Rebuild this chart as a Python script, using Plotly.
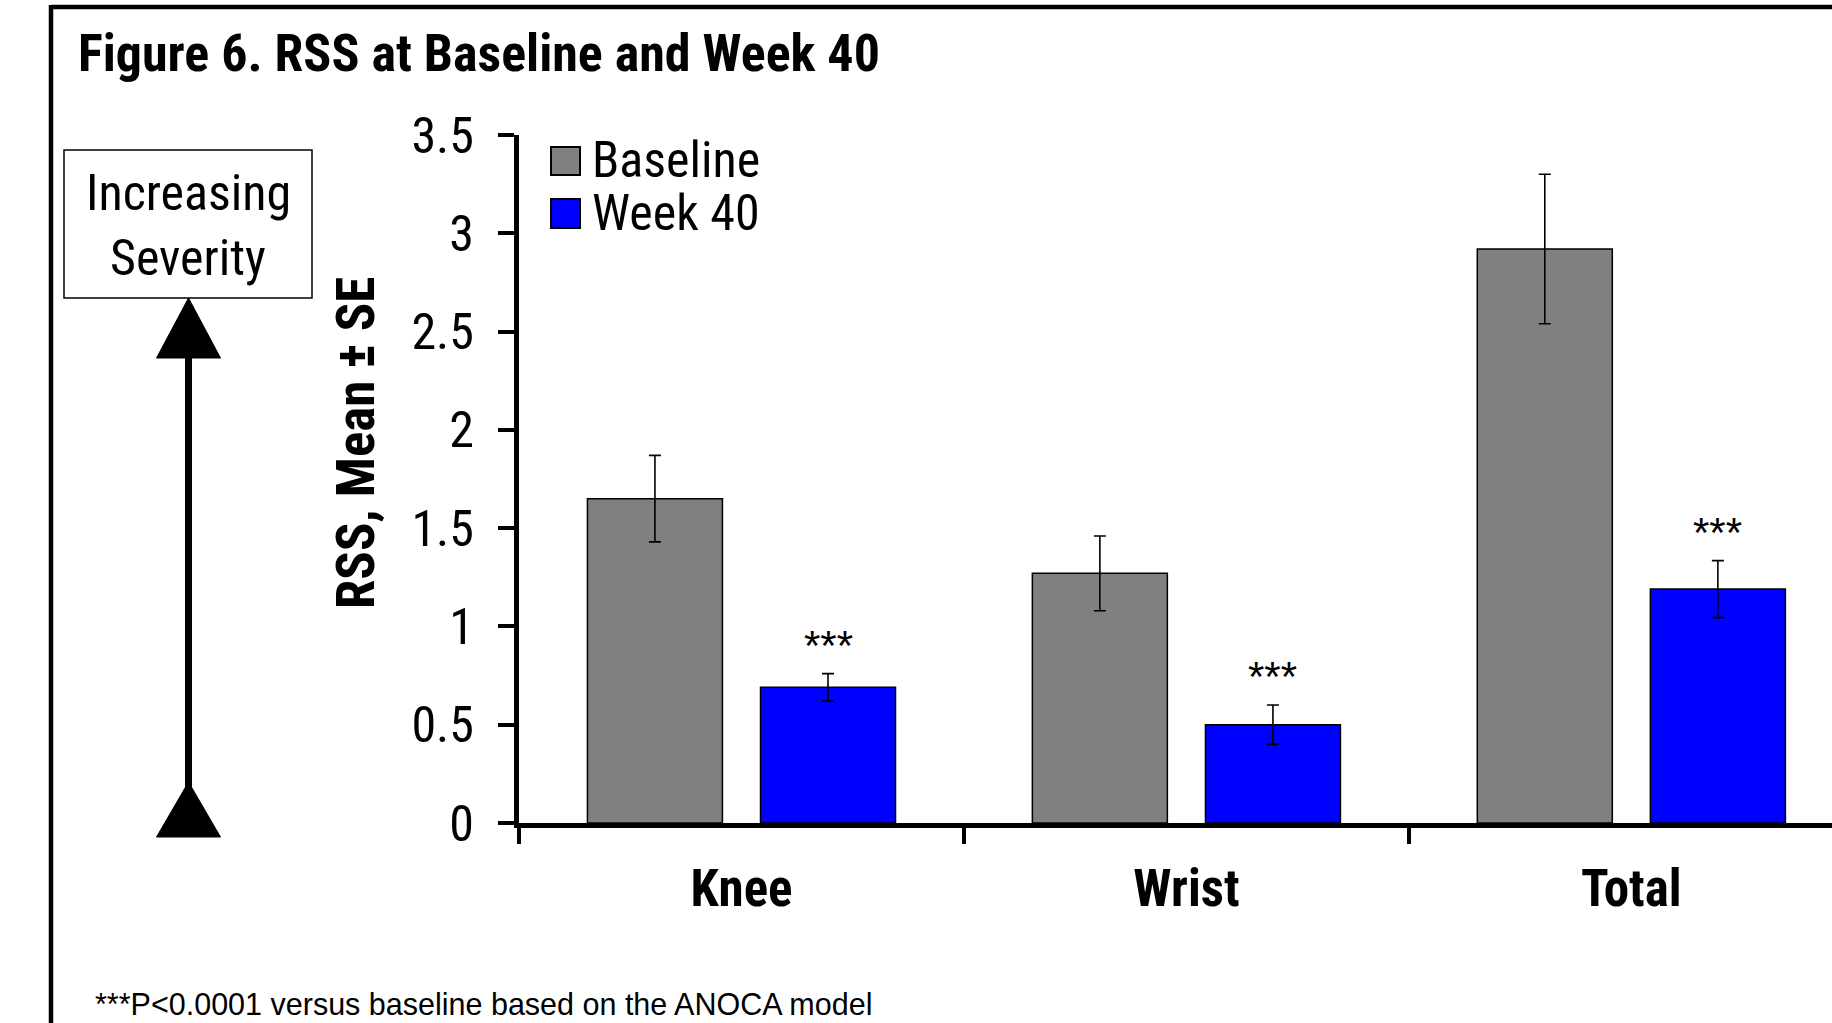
import plotly.graph_objects as go

# Canvas size in pixels
W, H = 1832, 1023

# ---- data -------------------------------------------------------------
categories = ["Knee", "Wrist", "Total"]
series_names = ["Baseline", "Week 40"]
baseline_mean = [1.65, 1.27, 2.92]
baseline_se = [0.22, 0.19, 0.38]
week40_mean = [0.69, 0.50, 1.19]
week40_se = [0.07, 0.10, 0.145]
week40_flags = ["***", "***", "***"]
y_tick_values = [0, 0.5, 1, 1.5, 2, 2.5, 3, 3.5]
y_tick_labels = ["0", "0.5", "1", "1.5", "2", "2.5", "3", "3.5"]

# ---- styling ----------------------------------------------------------
BASELINE_COLOR = "#808080"
WEEK40_COLOR = "#0000FF"
NARROW = "Roboto Condensed, Liberation Sans Narrow, Arial Narrow, sans-serif"
REGULAR = "Liberation Sans, Arial, sans-serif"
BARGAP = 0.222
BARGROUPGAP = 0.22


def px(x):
    """pixel x -> paper x"""
    return x / W


def py(y):
    """pixel y (from top) -> paper y"""
    return 1 - y / H


fig = go.Figure()

for name, means, ses, color in [
    (series_names[0], baseline_mean, baseline_se, BASELINE_COLOR),
    (series_names[1], week40_mean, week40_se, WEEK40_COLOR),
]:
    fig.add_trace(go.Bar(
        name=name,
        x=categories,
        y=means,
        marker=dict(color=color, line=dict(color="black", width=1.5)),
        error_y=dict(type="data", array=ses, visible=True,
                     color="black", thickness=1.6, width=6),
        showlegend=False,
    ))

annotations = []
shapes = []

# significance markers above the Week 40 bars
slot_offset = (1 - BARGAP) / 4
for i, (m, s, flag) in enumerate(zip(week40_mean, week40_se, week40_flags)):
    annotations.append(dict(
        x=i + slot_offset, y=m + s, xref="x", yref="y",
        text=flag, showarrow=False, yanchor="bottom", yshift=3,
        font=dict(family=REGULAR, size=42, color="black"),
    ))

# title
annotations.append(dict(
    x=px(76), y=py(54), xref="paper", yref="paper",
    xanchor="left", yanchor="middle", showarrow=False,
    text="Figure 6. RSS at Baseline and Week 40",
    font=dict(family=NARROW, size=52, color="black", weight="bold"),
))

# y-axis title
annotations.append(dict(
    x=px(356), y=py(443), xref="paper", yref="paper",
    xanchor="center", yanchor="middle", showarrow=False, textangle=-90,
    text="RSS, Mean ± SE",
    font=dict(family=NARROW, size=53, color="black", weight="bold"),
))

# legend
legend_rows = [(series_names[0], BASELINE_COLOR, 147, 175, 160),
               (series_names[1], WEEK40_COLOR, 199, 228, 213)]
for label, color, top, bottom, mid in legend_rows:
    shapes.append(dict(
        type="rect", xref="paper", yref="paper",
        x0=px(551), x1=px(580), y0=py(bottom), y1=py(top),
        fillcolor=color, line=dict(color="black", width=2),
    ))
    annotations.append(dict(
        x=px(590), y=py(mid), xref="paper", yref="paper",
        xanchor="left", yanchor="middle", showarrow=False, text=label,
        font=dict(family=NARROW, size=50, color="black"),
    ))

# "Increasing Severity" box with arrow
shapes.append(dict(
    type="rect", xref="paper", yref="paper",
    x0=px(64), x1=px(312), y0=py(298), y1=py(150),
    line=dict(color="black", width=1.5), fillcolor="white",
))
for word, ymid in [("Increasing", 193), ("Severity", 258)]:
    annotations.append(dict(
        x=px(188), y=py(ymid), xref="paper", yref="paper",
        xanchor="center", yanchor="middle", showarrow=False, text=word,
        font=dict(family=NARROW, size=50, color="black"),
    ))

ax_x = 188.5
shapes.append(dict(
    type="line", xref="paper", yref="paper",
    x0=px(ax_x), x1=px(ax_x), y0=py(350), y1=py(790),
    line=dict(color="black", width=7),
))
for tip, base in [(298, 358), (782, 837)]:
    path = (f"M {px(ax_x)},{py(tip)} L {px(ax_x - 32)},{py(base)} "
            f"L {px(ax_x + 32)},{py(base)} Z")
    shapes.append(dict(
        type="path", xref="paper", yref="paper", path=path,
        fillcolor="black", line=dict(color="black", width=1),
    ))

# outer frame (top and left edges)
shapes.append(dict(type="line", xref="paper", yref="paper",
                   x0=px(51), x1=px(W + 10), y0=py(7), y1=py(7),
                   line=dict(color="black", width=4.5)))
shapes.append(dict(type="line", xref="paper", yref="paper",
                   x0=px(51), x1=px(51), y0=py(5), y1=py(H + 10),
                   line=dict(color="black", width=4.5)))

# footnote
annotations.append(dict(
    x=px(93), y=py(1004), xref="paper", yref="paper",
    xanchor="left", yanchor="middle", showarrow=False,
    text="***P<0.0001 versus baseline based on the ANOCA model",
    font=dict(family=REGULAR, size=30.5, color="black"),
))

fig.update_layout(
    template="none",
    width=W, height=H, autosize=False,
    margin=dict(l=0, r=0, t=0, b=0, pad=0),
    paper_bgcolor="white", plot_bgcolor="white",
    barmode="group", bargap=BARGAP, bargroupgap=BARGROUPGAP,
    showlegend=False,
    xaxis=dict(
        type="category", domain=[px(519), 1], range=[-0.5, 2.451],
        automargin=False,
        tickson="boundaries", ticks="outside", ticklen=16, tickwidth=4,
        tickcolor="black", showline=True, linewidth=5, linecolor="black",
        showgrid=False, zeroline=False, ticklabelstandoff=17,
        tickfont=dict(family=NARROW, size=51, color="black", weight="bold"),
    ),
    yaxis=dict(
        domain=[py(823), py(135)], range=[0, 3.5], automargin=False,
        tickmode="array", tickvals=y_tick_values, ticktext=y_tick_labels,
        ticks="outside", ticklen=16, tickwidth=4, tickcolor="black",
        showline=True, linewidth=5, linecolor="black",
        showgrid=False, zeroline=False, ticklabelstandoff=14,
        tickfont=dict(family=NARROW, size=50, color="black"),
    ),
    annotations=annotations,
    shapes=shapes,
)

fig.write_html("out.html")
